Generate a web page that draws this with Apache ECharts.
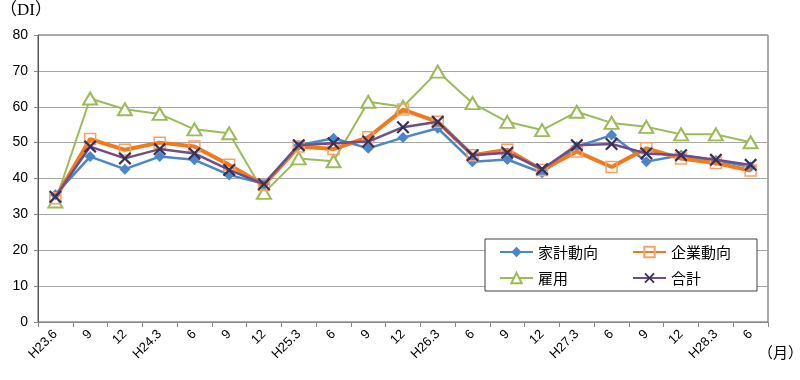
<!DOCTYPE html>
<html><head><meta charset="utf-8">
<script src="https://cdn.jsdelivr.net/npm/echarts@6/dist/echarts.min.js"></script>
<style>html,body{margin:0;padding:0;background:#fff}#c{width:800px;height:380px}</style>
</head><body><div id="c"></div>
<script>
const categories = ['H23.6','9','12','H24.3','6','9','12','H25.3','6','9','12','H26.3','6','9','12','H27.3','6','9','12','H28.3','6'];
const household = [35.5,46.1,42.6,46.1,45.2,41.0,38.5,49.3,51.2,48.4,51.4,54.0,44.7,45.3,41.6,48.9,52.1,44.7,46.5,45.0,43.3];
const corporate = [34.5,51.0,48.0,50.0,48.9,43.8,38.2,48.9,48.2,51.5,59.2,55.8,46.5,48.0,42.4,47.5,43.2,48.4,45.6,44.3,42.2];
const employment = [33.6,62.3,59.3,58.0,53.7,52.6,36.0,45.6,44.8,61.4,60.0,69.8,61.0,55.8,53.5,58.6,55.5,54.4,52.3,52.3,50.1];
const total = [34.9,48.9,45.6,48.2,47.0,42.4,38.4,49.3,49.8,50.3,54.3,55.8,46.5,47.2,42.6,49.3,49.6,47.0,46.5,45.2,43.8];
const yTicks = {min:0, max:80, interval:10};

const xPath = 'path://M0,1.2 L1.2,0 L5,3.8 L8.8,0 L10,1.2 L6.2,5 L10,8.8 L8.8,10 L5,6.2 L1.2,10 L0,8.8 L3.8,5 Z';
const chart = echarts.init(document.getElementById('c'));
const numFont = 'Liberation Sans, Noto Sans, sans-serif';
chart.setOption({
  animation:false,
  backgroundColor:'#ffffff',
  grid:{left:38, right:32, top:35, bottom:58, show:true, borderColor:'#595959', borderWidth:1, backgroundColor:'transparent'},
  graphic:[
    {type:'text', left:0, top:2, style:{text:'（DI）', font:'17px "Liberation Serif","Noto Sans CJK JP",serif', fill:'#000'}},
    {type:'text', left:758, top:345, style:{text:'（月）', font:'15px "Noto Sans CJK JP",sans-serif', fill:'#000'}}
  ],
  xAxis:{type:'category', data:categories, boundaryGap:true,
    axisLine:{lineStyle:{color:'#888', width:1}},
    axisTick:{show:true, interval:0, length:5, lineStyle:{color:'#888'}},
    axisLabel:{interval:0, rotate:45, margin:10, color:'#000', fontSize:13, fontFamily:numFont},
    splitLine:{show:false}},
  yAxis:{type:'value', min:yTicks.min, max:yTicks.max, interval:yTicks.interval,
    axisLine:{show:true, lineStyle:{color:'#595959'}},
    axisTick:{show:true, length:4, lineStyle:{color:'#888'}},
    axisLabel:{color:'#000', fontSize:14, margin:10, fontFamily:numFont},
    splitLine:{lineStyle:{color:'#a6a6a6', width:1}}},
  legend:{
    data:['家計動向','企業動向','雇用','合計'],
    left:485, top:239, width:262, orient:'horizontal',
    padding:[5,2,5,14], itemGap:10, itemWidth:33, itemHeight:13,
    borderColor:'#404040', borderWidth:1, backgroundColor:'#fff',
    textStyle:{fontSize:15, color:'#000', width:84, lineHeight:16, fontFamily:'"Noto Sans CJK JP",sans-serif'}
  },
  series:[
    {name:'家計動向', type:'line', data:household, symbol:'diamond', symbolSize:11,
      lineStyle:{color:'#4a86c8', width:2.5}, itemStyle:{color:'#4a86c8'}, z:2},
    {name:'企業動向', type:'line', data:corporate, symbol:'rect', symbolSize:11,
      lineStyle:{color:'#f07a1e', width:4}, itemStyle:{color:'rgba(255,255,255,0)', borderColor:'#f5a26a', borderWidth:1.5}, z:3},
    {name:'雇用', type:'line', data:employment, symbol:'triangle', symbolSize:[14,12],
      lineStyle:{color:'#9bbb59', width:2}, itemStyle:{color:'#ffffff', borderColor:'#9bbb59', borderWidth:2}, z:1},
    {name:'合計', type:'line', data:total, symbol:xPath, symbolSize:13,
      lineStyle:{color:'#6a4f8c', width:2.5}, itemStyle:{color:'#3a2f55'}, z:4}
  ]
});
</script></body></html>
